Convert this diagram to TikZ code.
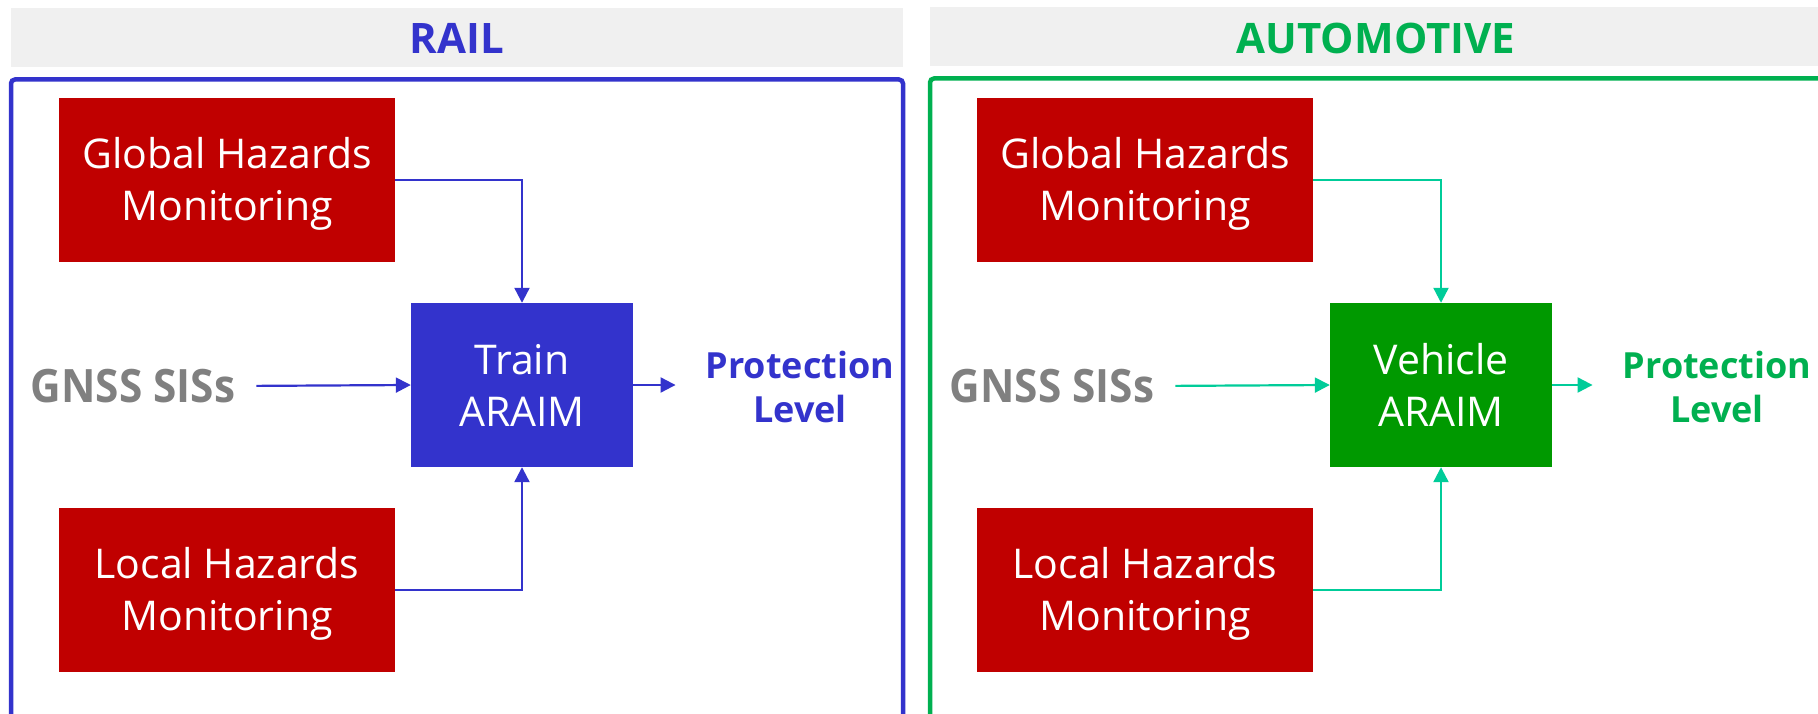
\documentclass[tikz,border=0pt]{standalone}
\usepackage{fontspec}
\setmainfont{Open Sans}
\newfontfamily\sisfont[FakeStretch=0.92]{Open Sans}
\usetikzlibrary{arrows.meta}

\definecolor{railblue}{HTML}{3333CC}
\definecolor{hazred}{HTML}{C00000}
\definecolor{boxgreen}{HTML}{009900}
\definecolor{autogreen}{HTML}{00B050}
\definecolor{linkteal}{HTML}{00CC99}
\definecolor{sisgray}{HTML}{808080}
\definecolor{hdrgray}{HTML}{F0F0F0}

\tikzset{
  header/.style={fill=hdrgray, draw=none},
  title/.style={font=\fontsize{42}{50}\selectfont\bfseries, inner sep=0pt},
  frame/.style={line width=4.5pt, rounded corners=4pt},
  block/.style={minimum width=336pt, minimum height=164pt, inner sep=0pt,
    fill=hazred, text=white, align=center, text depth=2pt,
    font=\fontsize{41}{52}\selectfont},
  core/.style={minimum width=222pt, minimum height=164pt, inner sep=0pt,
    text=white, align=center, text depth=-4.5pt,
    font=\fontsize{41}{52}\selectfont},
  sis/.style={text=sisgray, inner sep=0pt, font=\sisfont\fontsize{46}{56}\selectfont\bfseries},
  plevel/.style={inner sep=0pt, align=center, font=\fontsize{36}{44}\selectfont\bfseries},
  link/.style={line width=2.2pt, -{Triangle[length=15pt,width=15pt]}},
}

\begin{document}
\begin{tikzpicture}[x=1pt,y=-1pt]
\useasboundingbox (0,0) rectangle (1818,714);

% ---------- rail ----------
\fill[header] (11,8) rectangle (903,67);
\node[title, text=railblue] (railtitle) at (457,38) {RAIL};
\begin{scope}
  \clip (0,0) rectangle (1818,714);
  \draw[frame, draw=railblue] (11,740) -- (11,79.5) -- (903,79.5) -- (903,740);
\end{scope}
\node[block] (ghmR) at (227,180) {Global Hazards\\Monitoring};
\node[block] (lhmR) at (227,590) {Local Hazards\\Monitoring};
\node[core, fill=railblue] (train) at (522,385) {Train\\ARAIM};
\node[sis] (gnssR) at (133,386) {GNSS SISs};
\node[plevel, text=railblue] (plR) at (800,387) {Protection\\Level};
\draw[link, draw=railblue] (ghmR.east) -| (train.north);
\draw[link, draw=railblue] (lhmR.east) -| (train.south);
\draw[link, draw=railblue, shorten <=21pt] (gnssR.east) -- (train.west);
\draw[link, draw=railblue, shorten >=30pt] (train.east) -- (plR.west |- train.east);

% ---------- automotive ----------
\fill[header] (930,7) rectangle (1818,66);
\node[title, text=autogreen] (autotitle) at (1376,38) {AUTOMOTIVE};
\begin{scope}
  \clip (0,0) rectangle (1818,714);
  \draw[frame, draw=autogreen] (930,740) -- (930,78.5) -- (1840,78.5);
\end{scope}
\node[block] (ghmA) at (1145,180) {Global Hazards\\Monitoring};
\node[block] (lhmA) at (1145,590) {Local Hazards\\Monitoring};
\node[core, fill=boxgreen] (vehicle) at (1441,385) {Vehicle\\ARAIM};
\node[sis] (gnssA) at (1052,386) {GNSS SISs};
\node[plevel, text=autogreen] (plA) at (1717,387) {Protection\\Level};
\draw[link, draw=linkteal] (ghmA.east) -| (vehicle.north);
\draw[link, draw=linkteal] (lhmA.east) -| (vehicle.south);
\draw[link, draw=linkteal, shorten <=21pt] (gnssA.east) -- (vehicle.west);
\draw[link, draw=linkteal, shorten >=30pt] (vehicle.east) -- (plA.west |- vehicle.east);
\end{tikzpicture}
\end{document}
